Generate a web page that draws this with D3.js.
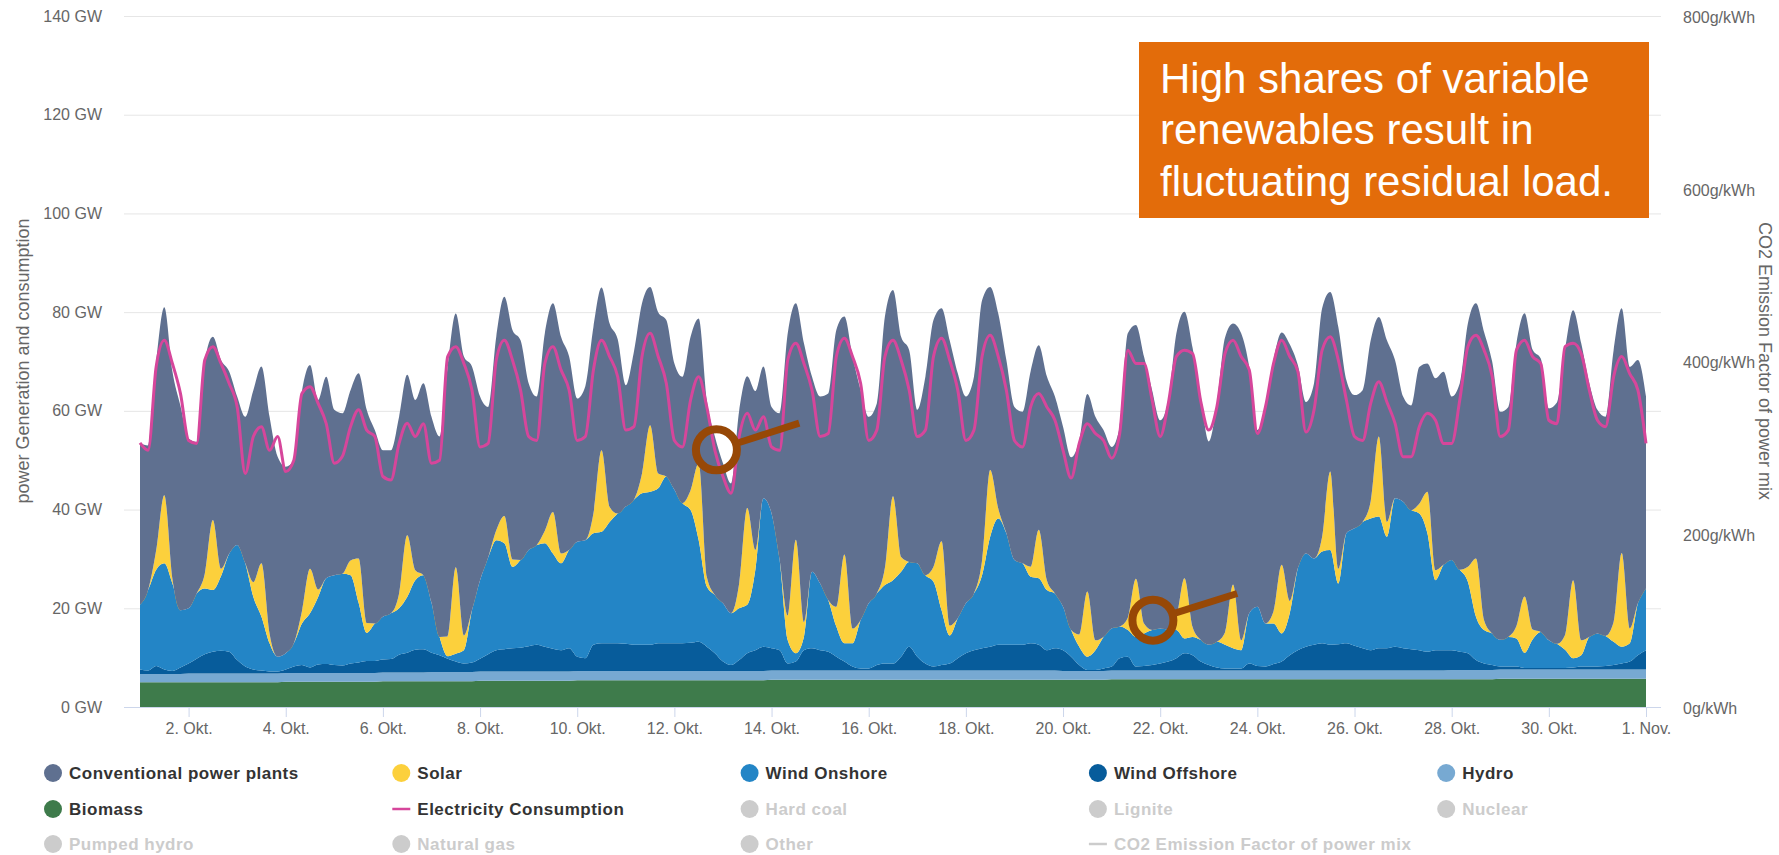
<!DOCTYPE html>
<html>
<head>
<meta charset="utf-8">
<script src="https://cdn.jsdelivr.net/npm/d3@7"></script>
<style>
  body { margin: 0; background: #fff; }
  svg { display: block; font-family: "Liberation Sans", Arial, sans-serif; }
</style>
</head>
<body>
<svg></svg>
<script>
// power in GW, one value every 4 hours from 1. Okt 00:00 to 1. Nov 00:00 (one row per day)
var conventional = [
  32.8, 29.3, 38.2, 38.1, 42.0, 41.4,
  34.4, 30.7, 43.0, 37.1, 42.3, 37.0,
  30.1, 29.7, 38.9, 39.9, 43.9, 40.5,
  37.8, 37.1, 44.6, 41.3, 38.4, 40.8,
  33.5, 32.5, 34.5, 37.5, 43.2, 39.2,
  33.7, 33.0, 35.8, 32.5, 34.5, 38.9,
  37.7, 40.6, 54.7, 51.4, 56.5, 49.4,
  37.2, 30.5, 39.2, 44.4, 46.5, 44.5,
  33.8, 30.1, 40.0, 42.3, 43.9, 39.2,
  29.0, 31.2, 37.8, 33.0, 37.2, 35.3,
  24.6, 30.0, 34.5, 28.0, 32.7, 31.7,
  25.6, 25.6, 31.1, 29.3, 35.8, 32.1,
  28.4, 26.3, 35.0, 26.7, 32.2, 26.7,
  21.6, 29.7, 57.2, 47.9, 56.5, 39.5,
  37.9, 41.8, 56.1, 48.2, 55.1, 46.6,
  37.8, 38.5, 50.9, 41.8, 44.6, 42.9,
  31.1, 40.2, 50.0, 47.2, 57.8, 49.6,
  41.9, 43.9, 52.7, 37.1, 39.5, 35.1,
  31.0, 30.7, 39.6, 37.4, 41.3, 39.9,
  36.5, 35.0, 39.3, 40.0, 45.3, 41.9,
  36.8, 40.5, 57.6, 51.4, 54.1, 48.6,
  42.2, 46.5, 57.6, 54.0, 56.6, 49.4,
  41.2, 48.3, 59.7, 52.9, 62.2, 49.9,
  35.8, 43.3, 50.9, 47.1, 52.0, 41.2,
  30.7, 35.5, 46.3, 36.4, 49.0, 31.0,
  27.0, 26.7, 32.6, 24.2, 36.8, 28.0,
  21.3, 21.2, 27.7, 26.0, 38.9, 39.1,
  33.1, 37.8, 49.3, 51.7, 58.4, 55.1,
  46.2, 46.6, 57.3, 57.4, 56.7, 55.4,
  47.0, 48.9, 57.8, 54.7, 60.2, 51.4,
  45.3, 44.4, 55.1, 49.6, 53.0, 49.3,
  38.9
];
var solar = [
  0, 0, 4.0, 13.8, 1.0, 0,
  0, 0, 3.0, 14.2, 1.5, 0,
  0, 0, 3.0, 10.8, 2.0, 0,
  0, 0, 2.5, 9.0, 1.5, 0,
  0, 0, 3.0, 9.0, 2.0, 0,
  0, 0, 3.0, 12.5, 2.0, 0,
  0, 0, 4.0, 17.5, 3.0, 0,
  0, 0, 2.0, 5.5, 1.5, 0,
  0, 0, 2.5, 8.4, 2.0, 0,
  0, 0, 4.0, 16.5, 3.0, 0,
  0, 0, 4.0, 13.5, 3.0, 0,
  0, 0, 4.0, 15.6, 2.0, 0,
  0, 0, 5.0, 19.6, 4.0, 0,
  0, 0, 5.0, 23.0, 3.0, 0,
  0, 0, 4.0, 18.0, 3.0, 0,
  0, 0, 3.5, 17.0, 3.0, 0,
  0, 0, 3.0, 14.0, 2.0, 0,
  0, 0, 3.0, 13.5, 2.0, 0,
  0, 0, 2.0, 9.8, 2.0, 0,
  0, 0, 2.5, 13.2, 2.0, 0,
  0, 0, 2.5, 11.8, 2.0, 0,
  0, 0, 2.5, 12.2, 2.0, 0,
  0, 0, 2.5, 12.9, 2.0, 0,
  0, 0, 2.5, 13.9, 2.5, 0,
  0, 0, 3.0, 15.9, 3.0, 0,
  0, 0, 3.5, 16.2, 3.0, 0,
  0, 0, 2.0, 8.4, 2.0, 0,
  0, 0, 3.0, 11.8, 2.0, 0,
  0, 0, 2.5, 11.4, 2.0, 0,
  0, 0, 3.0, 15.8, 3.0, 0,
  0, 0, 4.0, 19.0, 3.0, 0,
  0
];
var windOnshore = [
  13.1, 16.3, 19.5, 21.5, 17.7, 11.6,
  11.2, 13.2, 13.3, 12.5, 15.1, 19.8,
  23.3, 20.9, 14.7, 10.9, 5.7, 3.0,
  3.3, 4.7, 8.4, 11.0, 13.7, 17.4,
  18.2, 18.6, 17.9, 12.1, 5.7, 7.6,
  8.7, 9.3, 9.4, 11.3, 14.1, 15.0,
  10.1, 3.7, 0.5, 1.6, 2.7, 10.6,
  15.9, 19.6, 22.3, 21.5, 16.5, 17.8,
  19.5, 20.2, 21.0, 19.3, 17.6, 19.9,
  23.3, 23.9, 22.6, 22.6, 24.6, 26.3,
  27.8, 29.4, 30.7, 31.0, 31.4, 33.8,
  31.1, 28.4, 26.9, 20.6, 12.2, 11.8,
  11.8, 10.5, 10.5, 9.8, 16.3, 30.1,
  27.3, 18.3, 4.7, 1.7, 2.7, 15.5,
  13.5, 10.5, 6.1, 3.7, 4.7, 9.8,
  13.2, 14.5, 15.9, 16.9, 17.2, 17.2,
  18.9, 17.9, 17.2, 11.1, 5.7, 8.1,
  10.1, 11.5, 14.8, 22.3, 25.6, 22.6,
  17.2, 16.5, 13.5, 13.5, 12.2, 11.1,
  8.8, 5.4, 3.7, 2.7, 4.0, 6.4,
  7.7, 6.4, 5.4, 6.0, 6.6, 7.1,
  7.1, 6.5, 5.7, 3.0, 3.7, 4.4,
  4.1, 5.2, 4.8, 4.1, 3.7, 10.2,
  12.0, 8.7, 8.2, 5.7, 8.5, 16.6,
  18.9, 17.5, 18.6, 19.2, 12.3, 22.3,
  23.8, 25.6, 26.7, 26.7, 22.6, 30.1,
  29.7, 28.2, 27.7, 24.0, 14.2, 17.3,
  18.3, 16.6, 14.5, 8.8, 6.8, 6.4,
  5.4, 6.0, 5.7, 3.1, 5.8, 7.3,
  5.6, 4.9, 3.7, 1.9, 2.3, 6.0,
  6.7, 6.1, 4.7, 3.4, 3.7, 10.5,
  12.5
];
var windOffshore = [
  0.9, 0.7, 1.6, 0.9, 0.6, 1.3,
  2.0, 3.0, 3.9, 4.4, 4.6, 4.4,
  2.7, 1.4, 0.8, 0.6, 0.4, 0.4,
  0.7, 1.3, 1.6, 1.1, 1.7, 1.8,
  1.6, 1.5, 1.9, 2.1, 2.4, 2.4,
  2.6, 2.7, 3.6, 4.0, 4.6, 4.7,
  3.9, 3.4, 2.7, 2.1, 1.7, 1.9,
  2.6, 3.5, 4.3, 4.5, 4.7, 4.8,
  5.1, 5.4, 5.0, 4.6, 4.3, 4.7,
  2.9, 2.6, 5.3, 5.6, 5.6, 5.6,
  5.5, 5.3, 5.3, 5.3, 5.6, 5.6,
  5.6, 5.6, 5.7, 5.9, 4.9, 3.6,
  1.9, 1.2, 2.2, 3.6, 4.2, 4.9,
  4.5, 4.1, 1.4, 1.8, 4.1, 4.5,
  4.1, 3.8, 2.8, 1.8, 0.8, 0.4,
  0.4, 1.1, 1.4, 1.4, 2.8, 4.8,
  2.8, 1.4, 0.8, 1.1, 1.4, 2.5,
  3.5, 4.1, 4.5, 4.8, 5.2, 5.2,
  5.2, 5.2, 5.5, 5.2, 4.1, 4.5,
  4.2, 2.9, 1.2, 0.2, 0.2, 0.5,
  0.8, 2.5, 2.8, 0.8, 0.9, 1.1,
  1.4, 1.8, 2.5, 3.5, 3.1, 1.8,
  1.1, 0.6, 0.4, 0.4, 0.4, 1.4,
  0.9, 0.8, 1.3, 1.8, 3.1, 4.1,
  4.8, 5.2, 5.5, 5.2, 5.3, 5.5,
  5.0, 4.5, 4.1, 4.5, 4.5, 4.8,
  4.5, 4.3, 4.1, 3.8, 4.1, 4.1,
  4.0, 3.7, 3.4, 2.0, 1.3, 1.0,
  0.6, 0.6, 0.6, 0.3, 0.3, 0.3,
  0.3, 0.3, 0.3, 0.4, 0.6, 0.6,
  0.6, 0.7, 0.9, 1.2, 1.6, 2.9,
  3.9
];
var hydro = [
  1.7, 1.7, 1.7, 1.7, 1.7, 1.7,
  1.8, 1.8, 1.8, 1.8, 1.8, 1.8,
  1.8, 1.8, 1.8, 1.8, 1.8, 1.8,
  1.8, 1.8, 1.8, 1.8, 1.8, 1.8,
  1.8, 1.8, 1.8, 1.8, 1.8, 1.8,
  1.8, 1.8, 1.8, 1.8, 1.8, 1.8,
  1.9, 1.9, 1.9, 1.9, 1.9, 1.9,
  1.9, 1.9, 1.9, 1.9, 1.9, 1.9,
  1.9, 1.9, 1.9, 1.9, 1.9, 1.9,
  1.9, 1.9, 1.9, 1.9, 1.9, 1.9,
  1.9, 1.9, 1.9, 1.9, 1.9, 1.9,
  1.9, 1.9, 1.9, 1.9, 1.9, 1.9,
  1.9, 1.9, 1.9, 1.9, 1.9, 1.9,
  1.9, 1.9, 1.9, 1.9, 1.9, 1.9,
  1.9, 1.9, 1.9, 1.9, 1.9, 1.9,
  1.9, 1.9, 1.9, 1.9, 1.9, 1.9,
  1.9, 1.9, 1.9, 1.9, 1.9, 1.9,
  1.9, 1.9, 1.9, 1.9, 1.9, 1.9,
  1.9, 1.9, 1.9, 1.9, 1.9, 1.9,
  1.8, 1.8, 1.8, 1.8, 1.8, 1.8,
  1.8, 1.8, 1.8, 1.8, 1.8, 1.8,
  1.8, 1.8, 1.8, 1.8, 1.8, 1.8,
  1.8, 1.8, 1.8, 1.8, 1.8, 1.8,
  1.8, 1.8, 1.8, 1.8, 1.8, 1.8,
  1.8, 1.8, 1.8, 1.8, 1.8, 1.8,
  1.8, 1.8, 1.8, 1.8, 1.8, 1.8,
  1.8, 1.8, 1.8, 1.8, 1.8, 1.8,
  1.9, 1.9, 1.9, 1.9, 1.9, 1.9,
  1.9, 1.9, 1.9, 1.9, 1.9, 1.9,
  1.9, 1.9, 1.9, 1.9, 1.9, 1.9,
  1.9, 1.9, 1.9, 1.9, 1.9, 1.9,
  1.9
];
var biomass = [
  5.0, 5.0, 5.0, 5.0, 5.0, 5.0,
  5.0, 5.0, 5.0, 5.0, 5.0, 5.0,
  5.0, 5.0, 5.0, 5.0, 5.0, 5.0,
  5.1, 5.1, 5.1, 5.1, 5.1, 5.1,
  5.1, 5.1, 5.1, 5.1, 5.1, 5.1,
  5.2, 5.2, 5.2, 5.2, 5.2, 5.2,
  5.2, 5.2, 5.2, 5.2, 5.2, 5.2,
  5.3, 5.3, 5.3, 5.3, 5.3, 5.3,
  5.3, 5.3, 5.3, 5.3, 5.3, 5.3,
  5.4, 5.4, 5.4, 5.4, 5.4, 5.4,
  5.4, 5.4, 5.4, 5.4, 5.4, 5.4,
  5.4, 5.4, 5.4, 5.4, 5.4, 5.4,
  5.4, 5.4, 5.4, 5.4, 5.4, 5.4,
  5.5, 5.5, 5.5, 5.5, 5.5, 5.5,
  5.5, 5.5, 5.5, 5.5, 5.5, 5.5,
  5.5, 5.5, 5.5, 5.5, 5.5, 5.5,
  5.5, 5.5, 5.5, 5.5, 5.5, 5.5,
  5.5, 5.5, 5.5, 5.5, 5.5, 5.5,
  5.5, 5.5, 5.5, 5.5, 5.5, 5.5,
  5.5, 5.5, 5.5, 5.5, 5.5, 5.5,
  5.6, 5.6, 5.6, 5.6, 5.6, 5.6,
  5.6, 5.6, 5.6, 5.6, 5.6, 5.6,
  5.6, 5.6, 5.6, 5.6, 5.6, 5.6,
  5.6, 5.6, 5.6, 5.6, 5.6, 5.6,
  5.6, 5.6, 5.6, 5.6, 5.6, 5.6,
  5.6, 5.6, 5.6, 5.6, 5.6, 5.6,
  5.6, 5.6, 5.6, 5.6, 5.6, 5.6,
  5.6, 5.6, 5.6, 5.6, 5.6, 5.6,
  5.7, 5.7, 5.7, 5.7, 5.7, 5.7,
  5.7, 5.7, 5.7, 5.7, 5.7, 5.7,
  5.7, 5.7, 5.7, 5.7, 5.7, 5.7,
  5.7
];
var consumption = [
  53.5, 52.0, 69.0, 74.3, 69.6, 63.5,
  54.0, 53.4, 70.3, 73.0, 69.6, 65.6,
  60.8, 47.3, 54.8, 56.8, 52.0, 54.8,
  47.7, 50.0, 63.5, 64.9, 61.5, 57.4,
  49.4, 50.8, 56.8, 60.2, 56.1, 54.8,
  46.7, 46.0, 53.4, 57.5, 54.8, 57.4,
  49.4, 50.0, 71.0, 73.0, 69.6, 64.2,
  52.7, 53.4, 70.3, 74.3, 70.3, 64.2,
  54.8, 54.0, 69.6, 73.0, 68.3, 64.2,
  54.0, 54.8, 68.3, 74.3, 71.0, 66.9,
  56.1, 56.8, 71.0, 75.7, 71.0, 65.6,
  54.0, 52.7, 62.2, 66.9, 60.8, 52.0,
  46.7, 43.3, 54.8, 59.5, 56.1, 58.8,
  52.7, 52.0, 70.3, 73.7, 69.6, 64.2,
  54.8, 55.4, 71.0, 74.7, 71.0, 65.6,
  54.0, 56.1, 71.0, 74.3, 70.3, 64.2,
  54.8, 56.1, 71.0, 74.7, 70.3, 64.2,
  54.0, 56.1, 71.0, 75.3, 71.0, 64.2,
  54.0, 52.7, 60.8, 63.5, 60.8, 58.1,
  52.0, 46.4, 53.4, 57.4, 55.4, 54.0,
  50.4, 55.4, 72.3, 69.6, 69.6, 62.2,
  54.8, 61.5, 71.0, 72.3, 71.6, 62.0,
  56.1, 60.8, 71.6, 74.3, 71.0, 68.3,
  55.4, 60.8, 69.6, 74.3, 71.0, 68.0,
  55.7, 60.2, 72.3, 75.0, 70.3, 62.2,
  54.8, 54.0, 61.5, 65.9, 61.8, 57.5,
  50.7, 50.7, 56.8, 59.5, 58.1, 53.4,
  53.4, 62.2, 73.0, 75.3, 72.3, 67.0,
  54.8, 56.1, 72.3, 74.3, 71.0, 69.6,
  58.1, 57.4, 73.0, 73.7, 71.6, 64.2,
  58.1, 56.8, 66.9, 71.0, 67.5, 64.2,
  53.4
];

var leftTicks = [0, 20, 40, 60, 80, 100, 120, 140];
var rightTicks = [0, 200, 400, 600, 800];
var xTickLabels = ["2. Okt.", "4. Okt.", "6. Okt.", "8. Okt.", "10. Okt.", "12. Okt.", "14. Okt.", "16. Okt.",
                   "18. Okt.", "20. Okt.", "22. Okt.", "24. Okt.", "26. Okt.", "28. Okt.", "30. Okt.", "1. Nov."];

var legendNames = ["Conventional power plants", "Solar", "Wind Onshore", "Wind Offshore", "Hydro",
                   "Biomass", "Electricity Consumption", "Hard coal", "Lignite", "Nuclear",
                   "Pumped hydro", "Natural gas", "Other", "CO2 Emission Factor of power mix"];
var legendColors = ["#5f7090", "#fcd03c", "#2385c6", "#075c9b", "#77a9d2",
                    "#3e7b4b", "#d6469b", "#cccccc", "#cccccc", "#cccccc",
                    "#cccccc", "#cccccc", "#cccccc", "#cccccc"];
var legendActive = [true, true, true, true, true, true, true, false, false, false, false, false, false, false];
var legendLine = [false, false, false, false, false, false, true, false, false, false, false, false, false, true];

var noteLines = ["High shares of variable", "renewables result in", "fluctuating residual load."];

var width = 1779;
var height = 855;

var svg = d3.select('svg')
              .attr('width', width)
              .attr('height', height);

var start = new Date(Date.UTC(2019, 9, 1));
var times = d3.range(conventional.length).map(i => d3.utcHour.offset(start, 4 * i));

var xScale = d3.scaleUtc()
                  .domain([start, times[times.length - 1]])
                  .range([140, 1646]);
var yScale = d3.scaleLinear()
                  .domain([0, 140])
                  .range([707, 16]);
var y2Scale = d3.scaleLinear()
                  .domain([0, 800])
                  .range([707, 16]);

// grid
svg.append("g")
    .attr("transform", "translate(124,0)")
    .call(d3.axisLeft(yScale).tickValues(leftTicks).tickSize(-(1661 - 124)).tickFormat(""))
    .call(g => g.select(".domain").remove())
    .call(g => g.selectAll("line").attr("stroke", "#e6e6e6"));

// stacked areas
var keys = ["biomass", "hydro", "offshore", "onshore", "solar", "conventional"];
var colors = {biomass: "#3e7b4b", hydro: "#77a9d2", offshore: "#075c9b", onshore: "#2385c6", solar: "#fcd03c", conventional: "#5f7090"};

var rows = times.map((t, i) => ({
  time: t,
  biomass: biomass[i],
  hydro: hydro[i],
  offshore: windOffshore[i],
  onshore: windOnshore[i],
  solar: solar[i],
  conventional: conventional[i]
}));

var stacked = d3.stack().keys(keys)(rows);

var area = d3.area()
              .x(d => xScale(d.data.time))
              .y0(d => yScale(d[0]))
              .y1(d => yScale(d[1]))
              .curve(d3.curveMonotoneX);

svg.append("g")
    .selectAll("path")
    .data(stacked)
    .enter()
    .append("path")
      .attr("d", area)
      .attr("fill", d => colors[d.key]);

// consumption line
var line = d3.line()
              .x((d, i) => xScale(times[i]))
              .y(d => yScale(d))
              .curve(d3.curveMonotoneX);

svg.append("path")
    .datum(consumption)
    .attr("d", line)
    .attr("fill", "none")
    .attr("stroke", "#d6469b")
    .attr("stroke-width", 3);

// x axis
var xTicks = d3.utcDay.range(new Date(Date.UTC(2019, 9, 2)), new Date(Date.UTC(2019, 10, 2)), 2);

svg.append("line")
    .attr("x1", 124).attr("x2", 1661)
    .attr("y1", 707.5).attr("y2", 707.5)
    .attr("stroke", "#ccd6eb");

svg.append("g")
    .attr("transform", "translate(0,707)")
    .call(d3.axisBottom(xScale).tickValues(xTicks).tickSize(10).tickPadding(6)
            .tickFormat((d, i) => xTickLabels[i]))
    .call(g => g.select(".domain").remove())
    .call(g => g.selectAll("line").attr("stroke", "#ccd6eb"))
    .call(g => g.selectAll("text").attr("fill", "#666").style("font-size", "16px")
                 .style("font-family", "Liberation Sans, Arial, sans-serif"));

// left axis
svg.append("g")
    .attr("transform", "translate(102,0)")
    .call(d3.axisLeft(yScale).tickValues(leftTicks).tickSize(0).tickPadding(0)
            .tickFormat(d => d + " GW"))
    .call(g => g.select(".domain").remove())
    .call(g => g.selectAll("text").attr("fill", "#666").style("font-size", "16px")
                 .style("font-family", "Liberation Sans, Arial, sans-serif"));

// right axis
svg.append("g")
    .attr("transform", "translate(1683,0)")
    .call(d3.axisRight(y2Scale).tickValues(rightTicks).tickSize(0).tickPadding(0)
            .tickFormat(d => d + "g/kWh"))
    .call(g => g.select(".domain").remove())
    .call(g => g.selectAll("text").attr("fill", "#666").attr("dy", "0.4em").style("font-size", "16px")
                 .style("font-family", "Liberation Sans, Arial, sans-serif"));

svg.append("text")
    .attr("transform", "translate(29,361) rotate(-90)")
    .style("text-anchor", "middle")
    .style("font-size", "18px")
    .attr("fill", "#666")
    .text("power Generation and consumption");

// kept just inside the right edge so the title stays readable
svg.append("text")
    .attr("transform", "translate(1759,361) rotate(90)")
    .style("text-anchor", "middle")
    .style("font-size", "18px")
    .attr("fill", "#666")
    .text("CO2 Emission Factor of power mix");

// legend
var legend = svg.append("g")
    .selectAll("g")
    .data(legendNames)
    .enter()
    .append("g")
      .attr("transform", (d, i) => "translate(" + (53 + 348.3 * (i % 5)) + "," + [773, 809, 844][Math.floor(i / 5)] + ")");

legend.filter((d, i) => !legendLine[i])
    .append("circle")
      .attr("r", 9)
      .attr("fill", d => legendColors[legendNames.indexOf(d)]);

legend.filter((d, i) => legendLine[i])
    .append("line")
      .attr("x1", -9).attr("x2", 9)
      .attr("stroke-width", 2.5)
      .attr("stroke", d => legendColors[legendNames.indexOf(d)]);

legend.append("text")
    .attr("x", 16)
    .attr("dy", "0.36em")
    .style("font-size", "17px")
    .style("font-weight", "bold")
    .style("letter-spacing", "0.5px")
    .attr("fill", (d, i) => legendActive[i] ? "#333" : "#cccccc")
    .text(d => d);

// annotation box
svg.append("rect")
    .attr("x", 1139).attr("y", 42)
    .attr("width", 510).attr("height", 176)
    .attr("fill", "#e36c0a");

svg.append("g")
    .selectAll("text")
    .data(noteLines)
    .enter()
    .append("text")
      .attr("x", 1160)
      .attr("y", (d, i) => 93 + 51.3 * i)
      .style("font-size", "42px")
      .attr("fill", "#fff")
      .text(d => d);

// magnifier marks (positions in chart units: day offset, GW)
var marks = [
  {day: 11.865, gw: 52.1, endDay: 13.57, endGw: 57.5},
  {day: 20.85, gw: 17.6, endDay: 22.585, endGw: 23.0}
];
var dayToDate = d => new Date(start.getTime() + d * 864e5);

marks.forEach(m => {
  var cx = xScale(dayToDate(m.day)), cy = yScale(m.gw);
  var ex = xScale(dayToDate(m.endDay)), ey = yScale(m.endGw);
  var ang = Math.atan2(ey - cy, ex - cx);
  svg.append("line")
      .attr("x1", cx + 24 * Math.cos(ang)).attr("y1", cy + 24 * Math.sin(ang))
      .attr("x2", ex).attr("y2", ey)
      .attr("stroke", "#974806")
      .attr("stroke-width", 7);
  svg.append("circle")
      .attr("cx", cx).attr("cy", cy)
      .attr("r", 20.5)
      .attr("fill", "none")
      .attr("stroke", "#974806")
      .attr("stroke-width", 8);
});
</script>
</body>
</html>
